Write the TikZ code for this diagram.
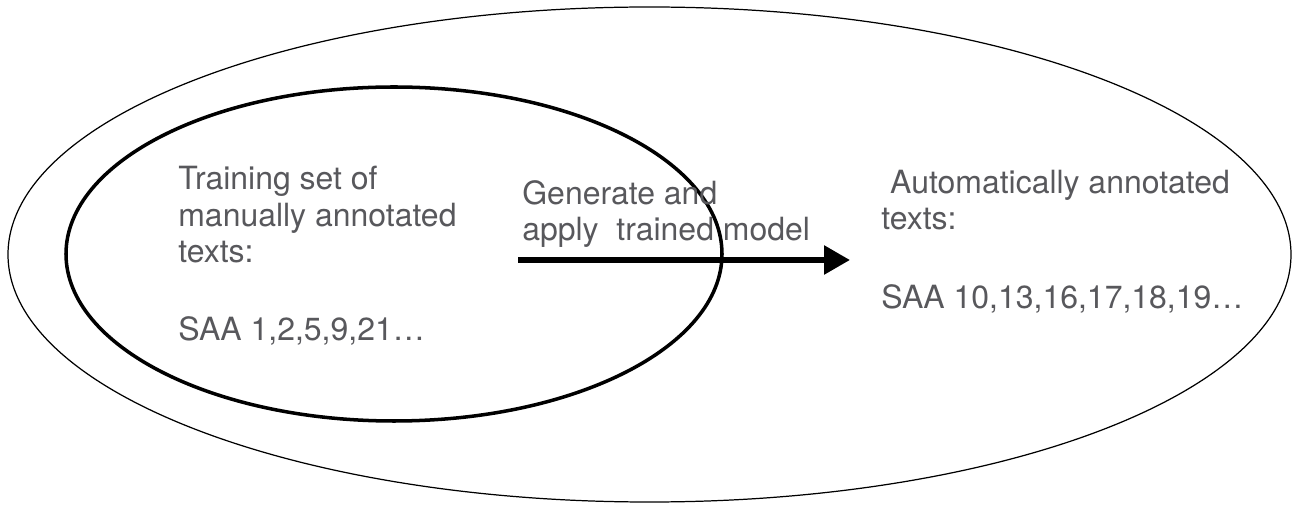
\documentclass[tikz,border=0pt]{standalone}
\usepackage{fontspec}
\setmainfont{TeX Gyre Heros}
\usetikzlibrary{shapes.geometric,arrows.meta}
\definecolor{txtgray}{HTML}{58585C}
\begin{document}
\begin{tikzpicture}[>={Triangle[length=5.2mm,width=5.6mm]}, line join=round,
		font=\fontsize{18.2}{20.8}\selectfont,
		lbl/.style={anchor=base west, inner sep=0pt, align=left, text=txtgray},
		set/.style={draw, ellipse, inner sep=0pt}]
	\useasboundingbox (0,0) rectangle (25.88,10.1);
	\node[set, line width=0.7pt, minimum width=25.66cm, minimum height=9.9cm] (corpus) at (12.99,5.01) {};
	\node[set, line width=2pt, minimum width=13.12cm, minimum height=6.68cm] (trainset) at (7.88,5.02) {};
	%\draw[color=gray!50,dashed] (0,0) grid (25.88,10.1);
	% base anchor sits on the last line
	\node[lbl] (train) at (3.56,4.84) {Training set of\\manually annotated\\texts:};
	\node[lbl] (trainsaa) at (3.56,3.28) {SAA 1,2,5,9,21…};
	\node[lbl] (gen) at (10.44,5.28) {Generate and\\apply~ trained model};
	\node[lbl] (auto) at (17.62,5.50) {~Automatically annotated\\texts:};
	\node[lbl] (autosaa) at (17.62,3.92) {SAA 10,13,16,17,18,19…};
	\coordinate (from) at (10.36,4.90);
	\coordinate (to) at (17.0,4.90);
	\draw[->, line width=3.3pt] (from) -- (to);
\end{tikzpicture}
\end{document}
